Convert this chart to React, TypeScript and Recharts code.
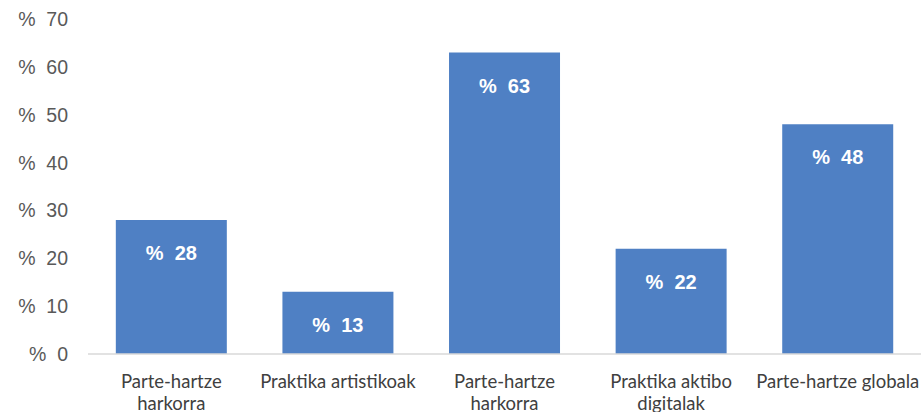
import React from 'react';
import { BarChart, Bar, XAxis, YAxis, LabelList } from 'recharts';

// categories (line breaks as they wrap in the original)
const categories = [
  'Parte-hartze\nharkorra',
  'Praktika artistikoak',
  'Parte-hartze\nharkorra',
  'Praktika aktibo\ndigitalak',
  'Parte-hartze globala',
];
const values = [28, 13, 63, 22, 48];
const yTicks = [0, 10, 20, 30, 40, 50, 60, 70];

const data = categories.map((name, i) => ({ name, value: values[i] }));

const BLUE = '#4f80c4';

const YTick = ({ x, y, payload }: any) => (
  <text
    x={x - 20}
    y={y}
    textAnchor="end"
    dominantBaseline="central"
    fontFamily="'Liberation Sans', Arial, sans-serif"
    fontSize={19.5}
    fill="#595959"
  >
    {'%\u00a0\u00a0' + payload.value}
  </text>
);

const XTick = ({ x, y, payload }: any) => {
  const lines = String(payload.value).split('\n');
  return (
    <g>
      {lines.map((line, i) => (
        <text
          key={i}
          x={x}
          y={y + 27 + i * 22}
          textAnchor="middle"
          dominantBaseline="central"
          fontFamily="Lato, 'Open Sans', sans-serif"
          fontSize={18.5}
          fill="#404040"
        >
          {line}
        </text>
      ))}
    </g>
  );
};

const ValueLabel = ({ x, y, width, value }: any) => (
  <text
    x={x + width / 2}
    y={y + 33}
    textAnchor="middle"
    dominantBaseline="central"
    fontFamily="'Liberation Sans', Arial, sans-serif"
    fontWeight="bold"
    fontSize={20}
    fill="#ffffff"
  >
    {'%\u00a0\u00a0' + value}
  </text>
);

export default function App() {
  return (
    <div
      style={{
        position: 'fixed',
        top: 0,
        left: 0,
        width: 921,
        height: 412,
        overflow: 'hidden',
        background: '#ffffff',
      }}
    >
      <BarChart
        width={921}
        height={412}
        data={data}
        margin={{ top: 19, right: 0, bottom: 0, left: 0 }}
        barCategoryGap="16.7%"
      >
        <XAxis
          dataKey="name"
          height={58}
          interval={0}
          tickLine={false}
          tickSize={0}
          tickMargin={0}
          axisLine={{ stroke: '#d9d9d9', strokeWidth: 1.5 }}
          tick={<XTick />}
        />
        <YAxis
          width={88}
          domain={[0, 70]}
          ticks={yTicks}
          axisLine={false}
          tickLine={false}
          tickSize={0}
          tickMargin={0}
          tick={<YTick />}
        />
        <Bar dataKey="value" fill={BLUE} isAnimationActive={false}>
          <LabelList dataKey="value" content={<ValueLabel />} />
        </Bar>
      </BarChart>
    </div>
  );
}
